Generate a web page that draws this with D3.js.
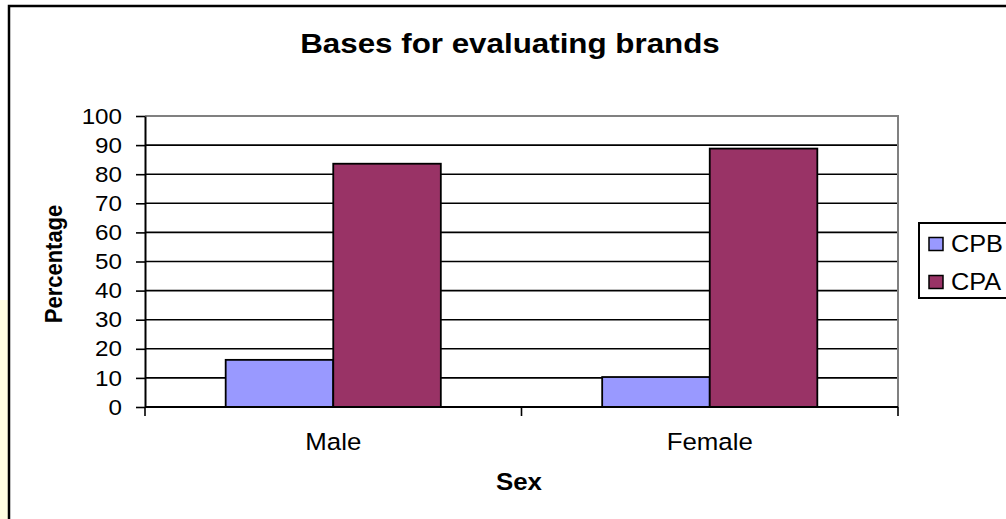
<!DOCTYPE html>
<html>
<head>
<meta charset="utf-8">
<script src="https://cdn.jsdelivr.net/npm/d3@7"></script>
<style>
  html, body { margin: 0; padding: 0; background: #fff; }
  svg { display: block; }
  text { font-family: "Liberation Sans", Arial, Helvetica, sans-serif; fill: #000; }
</style>
</head>
<body>
<svg id="chart" width="1006" height="519"></svg>
<script>
// Chart data
const categories = ["Male", "Female"];
const seriesNames = ["CPB", "CPA"];
const cpbValues = [16.2, 10.3];
const cpaValues = [83.6, 88.8];
const yTicks = [0, 10, 20, 30, 40, 50, 60, 70, 80, 90, 100];

const seriesColors = { CPB: "#9999FF", CPA: "#993366" };
const rows = categories.map((c, i) => ({ category: c, CPB: cpbValues[i], CPA: cpaValues[i] }));

const svg = d3.select("#chart");
const W = 1006, H = 519;
const plot = { left: 145, right: 898, top: 116, bottom: 407 };
const SX = 1.1; // horizontal text stretch

// Light yellow strip on the left edge
svg.append("rect").attr("x", 0).attr("y", 300).attr("width", 8).attr("height", H - 300)
  .attr("fill", "#FFFDE0");

// Chart area frame
svg.append("rect").attr("x", 9).attr("y", 6).attr("width", W + 20).attr("height", H + 20)
  .attr("fill", "#fff").attr("stroke", "#000").attr("stroke-width", 2.5);

// Helper for stretched text
function label(x, y, str, opts = {}) {
  const t = svg.append("text")
    .attr("transform", `translate(${x},${y}) scale(${SX},1)` + (opts.rotate ? ` rotate(${opts.rotate})` : ""))
    .attr("text-anchor", opts.anchor || "middle")
    .attr("font-size", opts.size || 22)
    .attr("font-weight", opts.bold ? "bold" : "normal")
    .text(str);
  if (opts.baseline) t.attr("dominant-baseline", opts.baseline);
  return t;
}

// Scales
const x0 = d3.scaleBand().domain(categories).range([plot.left, plot.right])
  .paddingInner(1.5 / 3.5).paddingOuter(0.75 / 3.5);
const x1 = d3.scaleBand().domain(seriesNames).range([0, x0.bandwidth()]);
const y = d3.scaleLinear().domain([0, 100]).range([plot.bottom, plot.top]);

// Gridlines
svg.append("g").selectAll("line").data(yTicks.filter(v => v > 0 && v < 100)).join("line")
  .attr("x1", plot.left).attr("x2", plot.right)
  .attr("y1", d => y(d)).attr("y2", d => y(d))
  .attr("stroke", "#000").attr("stroke-width", 1.6);

// Plot area border (top and right)
svg.append("path")
  .attr("d", `M${plot.left},${y(100)}H${plot.right}V${plot.bottom}`)
  .attr("fill", "none").attr("stroke", "#808080").attr("stroke-width", 2);

// Bars
const groups = svg.append("g").selectAll("g").data(rows).join("g")
  .attr("transform", d => `translate(${x0(d.category)},0)`);
groups.selectAll("rect").data(d => seriesNames.map(s => ({ s, v: d[s] }))).join("rect")
  .attr("x", d => x1(d.s)).attr("width", x1.bandwidth())
  .attr("y", d => y(d.v)).attr("height", d => y(0) - y(d.v))
  .attr("fill", d => seriesColors[d.s])
  .attr("stroke", "#000").attr("stroke-width", 1.8);

// Y axis
const yAxis = d3.axisLeft(y).tickValues(yTicks).tickSize(9).tickSizeOuter(0).tickFormat(d3.format("d"));
const ya = svg.append("g").attr("transform", `translate(${plot.left},0)`).call(yAxis);
ya.select(".domain").attr("stroke", "#000").attr("stroke-width", 2);
ya.selectAll(".tick line").attr("stroke", "#000").attr("stroke-width", 1.6);
ya.selectAll(".tick text").remove();
yTicks.forEach(v => label(plot.left - 23, y(v), String(v), { anchor: "end", size: 22, baseline: "central" }));

// X axis
const step = x0.step();
const bounds = [plot.left].concat(categories.map(c => x0(c) + x0.bandwidth() + step * (0.75 / 3.5)));
const xa = svg.append("g");
xa.append("line").attr("x1", plot.left).attr("x2", plot.right)
  .attr("y1", y(0)).attr("y2", y(0)).attr("stroke", "#000").attr("stroke-width", 2);
xa.selectAll("line.tk").data(bounds).join("line").attr("class", "tk")
  .attr("x1", d => d).attr("x2", d => d)
  .attr("y1", y(0)).attr("y2", y(0) + 9)
  .attr("stroke", "#000").attr("stroke-width", 1.6);
categories.forEach(c => label(x0(c) + x0.bandwidth() / 2, 450, c, { size: 23.5 }));

// Titles
label(510, 53, "Bases for evaluating brands", { size: 28.5, bold: true });
label(519, 490, "Sex", { size: 23.5, bold: true });
label(62, 264, "Percentage", { size: 22, bold: true, rotate: -90 });

// Legend
const lg = svg.append("g");
lg.append("rect").attr("x", 919).attr("y", 223).attr("width", 120).attr("height", 75)
  .attr("fill", "#fff").attr("stroke", "#000").attr("stroke-width", 2);
seriesNames.forEach((s, i) => {
  const cy = 244 + i * 38;
  lg.append("rect").attr("x", 929).attr("y", cy - 6.5).attr("width", 14).attr("height", 13)
    .attr("fill", seriesColors[s]).attr("stroke", "#000").attr("stroke-width", 1.5);
  label(951, cy + 8, s, { anchor: "start", size: 23 });
});
</script>
</body>
</html>
